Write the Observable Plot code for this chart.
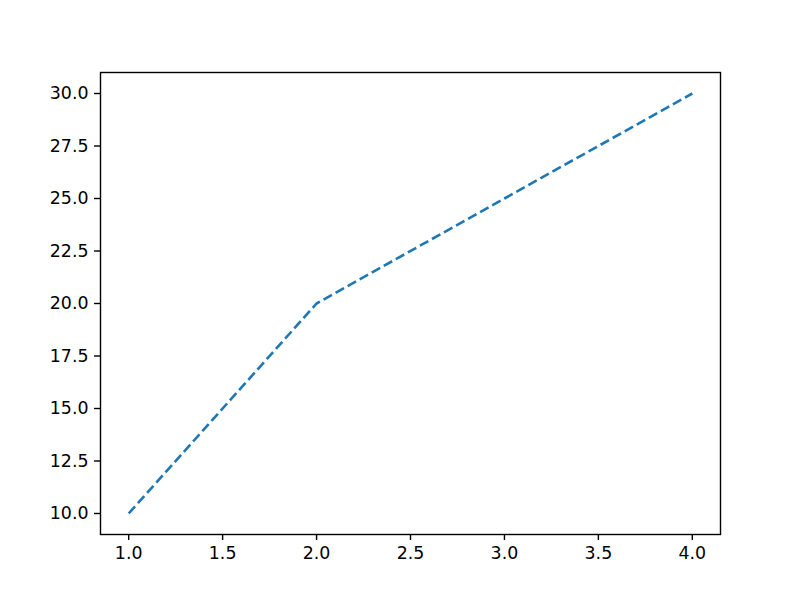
<!DOCTYPE html>
<html>
<head>
<meta charset="utf-8">
<script src="https://cdn.jsdelivr.net/npm/d3@7"></script>
<script src="https://cdn.jsdelivr.net/npm/@observablehq/plot@0.6"></script>
<style>
  html, body { margin: 0; padding: 0; background: #fff; }
  #chart svg { display: block; }
</style>
</head>
<body>
<div id="chart"></div>
<script>
const xValues = [1, 2, 3, 4];
const yValues = [10, 20, 25, 30];
const xTicks = [1.0, 1.5, 2.0, 2.5, 3.0, 3.5, 4.0];
const yTicks = [10.0, 12.5, 15.0, 17.5, 20.0, 22.5, 25.0, 27.5, 30.0];

const data = xValues.map((x, i) => ({x, y: yValues[i]}));

const chart = Plot.plot({
  width: 800,
  height: 600,
  marginLeft: 100,
  marginRight: 80,
  marginTop: 72,
  marginBottom: 66,
  style: {fontFamily: "DejaVu Sans", fontSize: "17.4px", color: "black", background: "white"},
  x: {domain: [0.85, 4.15]},
  y: {domain: [9, 31]},
  marks: [
    Plot.line(data, {x: "x", y: "y", stroke: "#1f77b4", strokeWidth: 2.6, strokeDasharray: "9.6,4.2", strokeLinecap: "butt"}),
    Plot.frame({stroke: "black", strokeWidth: 1.4}),
    Plot.axisX({ticks: xTicks, tickFormat: d3.format(".1f"), tickSize: 6, tickPadding: 6, strokeWidth: 1.4, label: null, stroke: "black", strokeOpacity: 1, fill: "black"}),
    Plot.axisY({ticks: yTicks, tickFormat: d3.format(".1f"), tickSize: 6, tickPadding: 6, strokeWidth: 1.4, label: null, stroke: "black", strokeOpacity: 1, fill: "black"})
  ]
});
document.getElementById("chart").appendChild(chart);
</script>
</body>
</html>
